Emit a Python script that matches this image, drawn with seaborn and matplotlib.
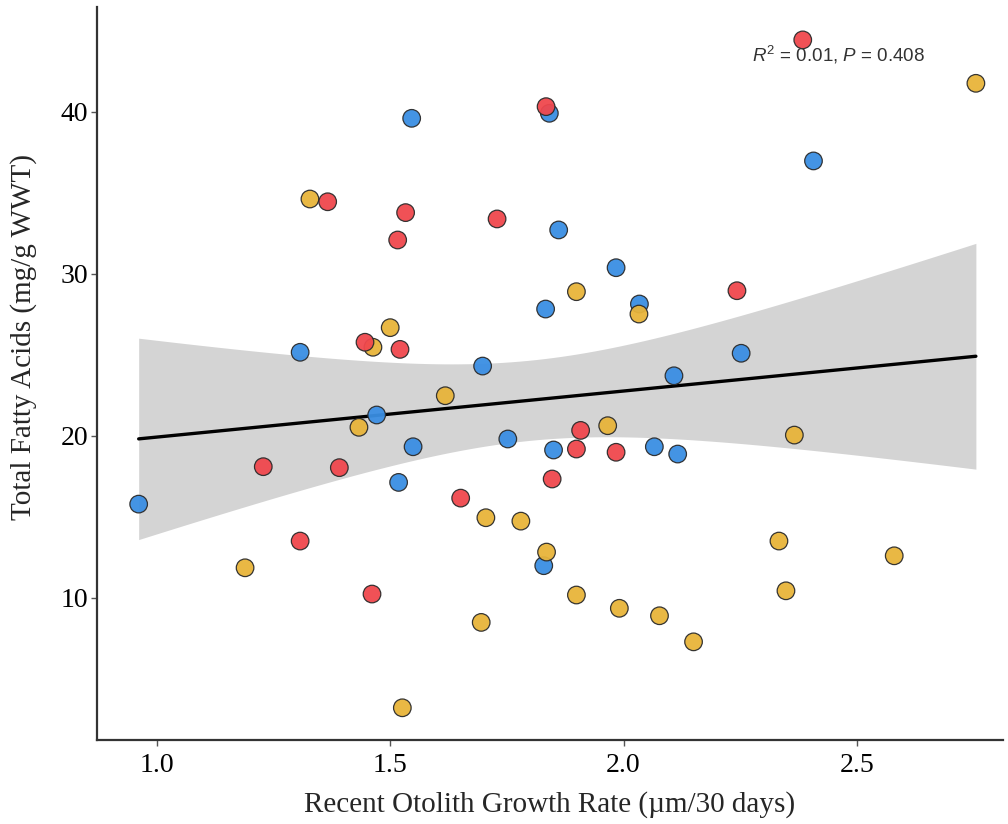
import matplotlib
matplotlib.use("Agg")
import matplotlib.pyplot as plt
import seaborn as sns
import numpy as np
import pandas as pd

# growth rate (um/30 days) and total fatty acids (mg/g WWT), per group
blue_x = [1.546, 1.307, 1.841, 1.861, 1.984, 1.833, 2.034, 2.252, 1.698, 2.108,
          2.407, 1.471, 1.549, 1.518, 0.961, 1.752, 1.850, 2.066, 2.116, 1.829]
blue_y = [39.59, 25.15, 39.90, 32.70, 30.37, 27.82, 28.13, 25.09, 24.30, 23.70,
          36.96, 21.28, 19.32, 17.12, 15.78, 19.80, 19.12, 19.32, 18.87, 11.98]

red_x = [1.366, 1.533, 1.516, 1.446, 1.521, 1.834, 1.729, 2.243, 2.384, 1.228,
         1.391, 1.307, 1.461, 1.908, 1.899, 1.984, 1.847, 1.651]
red_y = [34.44, 33.77, 32.08, 25.77, 25.33, 40.31, 33.38, 28.95, 44.43, 18.09,
         18.03, 13.50, 10.23, 20.33, 19.18, 18.98, 17.33, 16.15]

yellow_x = [1.328, 1.500, 1.463, 2.033, 1.899, 2.755, 1.433, 1.189, 1.526, 1.618,
            1.966, 1.705, 1.780, 1.835, 1.899, 1.991, 2.077, 2.150, 1.695, 2.366,
            2.333, 2.348, 2.580]
yellow_y = [34.61, 26.67, 25.46, 27.51, 28.89, 41.75, 20.52, 11.85, 3.21, 22.47,
            20.62, 14.94, 14.73, 12.82, 10.17, 9.35, 8.89, 7.28, 8.48, 20.04,
            13.50, 10.43, 12.59]

palette = {"A": "#3a8ee3", "B": "#f0474d", "C": "#e8b43a"}

df = pd.DataFrame({
    "growth": blue_x + yellow_x + red_x,
    "tfa": blue_y + yellow_y + red_y,
    "group": ["A"] * len(blue_x) + ["C"] * len(yellow_x) + ["B"] * len(red_x),
})

sns.set_theme(style="ticks")
plt.rcParams["font.family"] = ["Liberation Serif", "DejaVu Serif"]
plt.rcParams["mathtext.fontset"] = "custom"
plt.rcParams["mathtext.it"] = "Liberation Sans:italic"
plt.rcParams["mathtext.rm"] = "Liberation Sans"

fig = plt.figure(figsize=(10.08, 8.24), dpi=100)
ax = fig.add_axes([0.0959, 0.1019, 0.8991, 0.890])

# linear fit with analytic 95% confidence band (like geom_smooth lm)
x = df["growth"].to_numpy()
y = df["tfa"].to_numpy()
n = len(x)
slope, icpt = np.polyfit(x, y, 1)
resid = y - (slope * x + icpt)
s = np.sqrt(np.sum(resid ** 2) / (n - 2))
t_crit = 2.001  # t(0.975, df=59)
grid = np.linspace(x.min(), x.max(), 100)
fit = slope * grid + icpt
se = s * np.sqrt(1 / n + (grid - x.mean()) ** 2 / np.sum((x - x.mean()) ** 2))
ax.fill_between(grid, fit - t_crit * se, fit + t_crit * se, color="#d4d4d4", linewidth=0)

sns.regplot(data=df, x="growth", y="tfa", scatter=False, ci=None,
            color="black", line_kws={"linewidth": 2.4}, ax=ax)

sns.scatterplot(data=df, x="growth", y="tfa", hue="group", palette=palette,
                s=160, edgecolor="#2b2b2b", linewidth=0.9, alpha=0.95,
                legend=False, ax=ax, zorder=3)

ax.set_xlim(0.871, 2.813)
ax.set_ylim(1.22, 46.48)
ax.set_xticks([1.0, 1.5, 2.0, 2.5])
ax.set_yticks([10, 20, 30, 40])
ax.tick_params(labelsize=20, length=4, width=1, color="#555555", labelcolor="black")
ax.tick_params(axis="x", pad=5)
ax.tick_params(axis="y", pad=2)

ax.set_xlabel("Recent Otolith Growth Rate (\u00b5m/30 days)", fontsize=21, labelpad=10)
ax.set_ylabel("Total Fatty Acids (mg/g WWT)", fontsize=21)
ax.yaxis.set_label_coords(-0.066, 0.55)

for side in ["top", "right"]:
    ax.spines[side].set_visible(False)
for side in ["left", "bottom"]:
    ax.spines[side].set_linewidth(1.6)
    ax.spines[side].set_color("#333333")

ax.text(2.46, 43.5, r"$\mathit{R}^2$ = 0.01, $\mathit{P}$ = 0.408",
        family="Liberation Sans", fontsize=13.5, color="#333333",
        ha="center", va="center")

fig.savefig("out.png", dpi=100)
